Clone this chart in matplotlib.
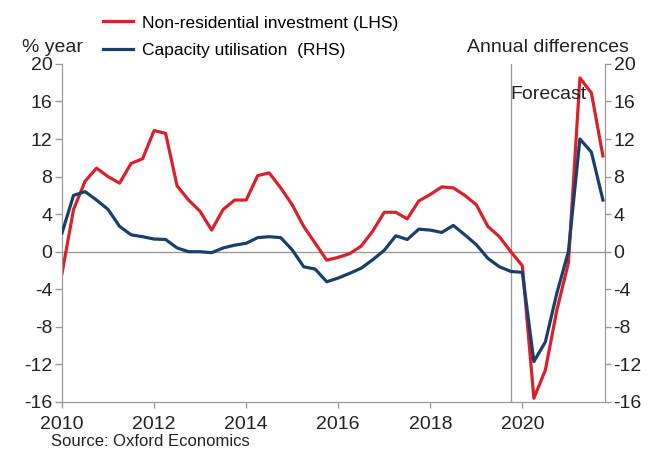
import numpy as np
import matplotlib
matplotlib.use("Agg")
import matplotlib.pyplot as plt

plt.rcParams["font.family"] = ["Liberation Sans", "DejaVu Sans"]
plt.rcParams["axes.unicode_minus"] = False

# quarterly data, 2010Q1 .. 2021Q4
quarters = 2010 + np.arange(48) * 0.25

investment = [-2.3, 4.5, 7.5, 8.9, 8.0, 7.3, 9.4, 9.9,
              12.9, 12.6, 7.0, 5.5, 4.3, 2.3, 4.5, 5.5,
              5.5, 8.1, 8.4, 6.8, 5.0, 2.7, 0.9, -0.9,
              -0.6, -0.2, 0.6, 2.2, 4.2, 4.2, 3.5, 5.4,
              6.1, 6.9, 6.8, 6.0, 5.0, 2.7, 1.6, 0.0,
              -1.5, -15.6, -12.6, -6.2, -1.2, 18.5, 16.9, 10.2]

capacity = [2.0, 6.0, 6.4, 5.5, 4.5, 2.7, 1.8, 1.6,
            1.35, 1.3, 0.4, 0.0, 0.0, -0.1, 0.4, 0.7,
            0.9, 1.5, 1.6, 1.5, 0.2, -1.6, -1.85, -3.2,
            -2.8, -2.3, -1.75, -0.85, 0.15, 1.7, 1.3, 2.4,
            2.3, 2.05, 2.8, 1.8, 0.75, -0.7, -1.6, -2.1,
            -2.2, -11.7, -9.6, -4.4, 0.0, 12.0, 10.6, 5.5]

yticks = [-16, -12, -8, -4, 0, 4, 8, 12, 16, 20]
xticks = [2010, 2012, 2014, 2016, 2018, 2020]
forecast_start = 2019.75

red = "#D9202B"
blue = "#1B3F6B"
grey = "#9a9a9a"

fig = plt.figure(figsize=(6.55, 4.53), dpi=100)
ax = fig.add_axes([0.0947, 0.1126, 0.8293, 0.7464])
ax2 = ax.twinx()

ax.axhline(0, color=grey, lw=1.0, zorder=1)
ax.axvline(forecast_start, color=grey, lw=1.0, zorder=1)

l1, = ax.plot(quarters, investment, color=red, lw=2.3, zorder=3)
l2, = ax2.plot(quarters, capacity, color=blue, lw=2.3, zorder=3)

for a in (ax, ax2):
    a.set_xlim(2010, 2021.8)
    a.set_ylim(-16, 20)
    a.set_yticks(yticks)
    a.spines["top"].set_visible(False)
    for s in a.spines.values():
        s.set_color(grey)
    a.tick_params(colors=grey, labelcolor="#222222", labelsize=14, length=5, width=1)
ax.tick_params(axis="y", pad=2)
ax2.tick_params(axis="y", pad=2, length=4)
ax.tick_params(axis="x", pad=6, length=4)
ax.set_xticks(xticks)
ax.set_xticklabels([str(x) for x in xticks])

ax.text(forecast_start, 16.7, "Forecast", fontsize=14, ha="left", va="center", color="#222222")

fig.text(0.08, 0.876, "% year", fontsize=14, ha="center", va="bottom", color="#222222")
fig.text(0.96, 0.876, "Annual differences", fontsize=14, ha="right", va="bottom", color="#222222")
fig.text(0.078, 0.008, "Source: Oxford Economics", fontsize=12, ha="left", va="bottom", color="#222222")

fig.legend([l1, l2], ["Non-residential investment (LHS)", "Capacity utilisation  (RHS)"],
           loc="upper left", bbox_to_anchor=(0.158, 0.966), frameon=False,
           fontsize=12.5, handlelength=1.7, handletextpad=0.5, labelspacing=0.7,
           borderpad=0, borderaxespad=0)

fig.savefig("out.png", dpi=100)
